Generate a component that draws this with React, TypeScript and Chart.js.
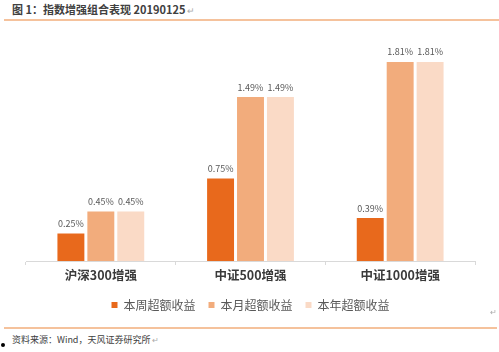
import React, { useEffect, useRef } from "react";
import { Chart, registerables } from "chart.js";

Chart.register(...registerables);

const categories = ["沪深300增强", "中证500增强", "中证1000增强"];
const seriesNames = ["本周超额收益", "本月超额收益", "本年超额收益"];
const weekly = [0.25, 0.75, 0.39];
const monthly = [0.45, 1.49, 1.81];
const yearly = [0.45, 1.49, 1.81];
const colors = ["#E8691C", "#F2AC7C", "#FADAC6"];

const CJK = '"Noto Sans CJK SC", "Noto Sans", sans-serif';

const valueLabels = {
  id: "valueLabels",
  afterDatasetsDraw(chart: any) {
    const ctx = chart.ctx;
    ctx.save();
    ctx.font = `9px ${CJK}`;
    ctx.fillStyle = "#595959";
    ctx.textAlign = "center";
    ctx.textBaseline = "middle";
    chart.data.datasets.forEach((ds: any, i: number) => {
      const meta = chart.getDatasetMeta(i);
      meta.data.forEach((bar: any, j: number) => {
        ctx.fillText(ds.data[j].toFixed(2) + "%", bar.x, bar.y - 10);
      });
    });
    ctx.restore();
  },
};

export default function App() {
  const ref = useRef<HTMLCanvasElement>(null);
  useEffect(() => {
    document.body.style.margin = "0";
    const chart = new Chart(ref.current!, {
      type: "bar",
      data: {
        labels: categories,
        datasets: [weekly, monthly, yearly].map((d, i) => ({
          label: seriesNames[i],
          data: d,
          backgroundColor: colors[i],
          borderWidth: 0,
          categoryPercentage: 0.6,
          barPercentage: 0.9,
        })),
      },
      options: {
        animation: false,
        responsive: false,
        maintainAspectRatio: false,
        layout: { padding: { top: 11, left: 26, right: 24, bottom: 4 } },
        plugins: {
          tooltip: { enabled: false },
          legend: {
            position: "bottom",
            labels: {
              boxWidth: 6,
              boxHeight: 6,
              font: { size: 12, family: CJK },
              color: "#595959",
              padding: 13,
            },
          },
        },
        scales: {
          y: { display: false, min: 0, max: 2 },
          x: {
            grid: {
              offset: true,
              drawOnChartArea: false,
              drawTicks: true,
              tickLength: 4,
              color: "#d9d9d9",
            },
            border: { color: "#d9d9d9" },
            ticks: {
              font: { size: 12.5, family: CJK, weight: "bold" },
              color: "#3a3a3a",
              padding: 3,
            },
          },
        },
      },
      plugins: [valueLabels],
    });
    return () => chart.destroy();
  }, []);

  return (
    <div
      style={{
        position: "relative",
        width: 499,
        height: 352,
        background: "#fff",
        overflow: "hidden",
        fontFamily: CJK,
      }}
    >
      <div
        style={{
          position: "absolute",
          left: 12,
          top: 1,
          fontSize: 11,
          fontWeight: "bold",
          color: "#404040",
          whiteSpace: "nowrap",
        }}
      >
        图 1：指数增强组合表现 20190125<span style={{ color: "#aaa", fontWeight: "normal", fontSize: 9 }}> ↵</span>
      </div>
      <div
        style={{
          position: "absolute",
          left: 4,
          top: 19,
          width: 495,
          height: 2,
          background: "#F5C29C",
        }}
      />
      <canvas
        ref={ref}
        width={499}
        height={295}
        style={{ position: "absolute", left: 0, top: 30, width: 499, height: 295 }}
      />
      <div
        style={{
          position: "absolute",
          left: 490,
          top: 306,
          fontSize: 8,
          color: "#aaa",
        }}
      >
        ↵
      </div>
      <div
        style={{
          position: "absolute",
          left: 4,
          top: 327,
          width: 493,
          height: 1.5,
          background: "#F5C29C",
        }}
      />
      <div
        style={{
          position: "absolute",
          left: 12,
          top: 333,
          fontSize: 9,
          color: "#404040",
          whiteSpace: "nowrap",
        }}
      >
        资料来源：Wind，天风证券研究所<span style={{ color: "#aaa", fontSize: 8 }}> ↵</span>
      </div>
      <div
        style={{
          position: "absolute",
          left: 1,
          top: 343,
          width: 4,
          height: 4,
          borderRadius: 2,
          background: "#000",
        }}
      />
    </div>
  );
}
